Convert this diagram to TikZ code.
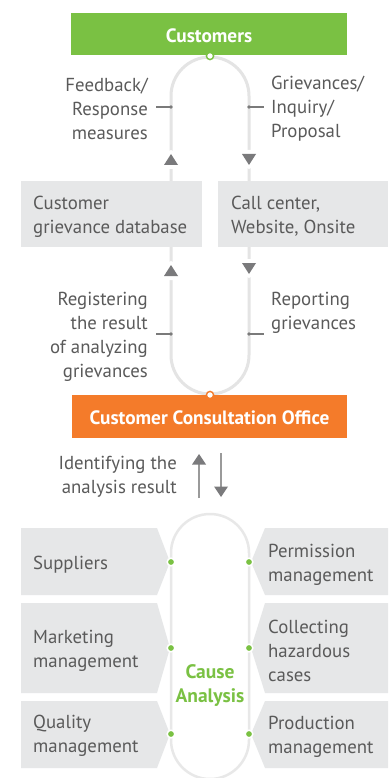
\documentclass[tikz,border=0pt]{standalone}
\usepackage{fontspec}
\setmainfont{PT Sans}
\definecolor{cgreen}{HTML}{7AC143}
\definecolor{corange}{HTML}{F47B2A}
\definecolor{boxgray}{HTML}{E6E7E8}
\definecolor{loopgray}{HTML}{E4E4E4}
\definecolor{loopgrayb}{HTML}{E8E8E8}
\definecolor{txtgray}{HTML}{5A5A5A}
\definecolor{arrgray}{HTML}{7A7A7C}
\definecolor{tickgray}{HTML}{7A7A7A}
\definecolor{thingray}{HTML}{9A9A9A}
\begin{document}
\begin{tikzpicture}[x=1pt,y=-1pt,
  lbl/.style={text=txtgray,font=\fontsize{18.8}{24}\selectfont,inner sep=0pt},
  hdr/.style={font=\fontsize{19.3}{22}\selectfont\bfseries,inner sep=0pt},
  loopline/.style={draw=loopgray,line width=3pt},
  looplineb/.style={draw=loopgrayb,line width=2.5pt},
  graybox/.style={fill=boxgray},
  tick/.style={draw=tickgray,line width=1.1pt},
  tickdot/.style={fill=tickgray},
  tri/.style={fill=arrgray},
  trigap/.style={draw=white,fill=white,line width=8pt,line join=round},
  gdot/.style={fill=cgreen,draw=white,line width=1.5pt},
  thin/.style={draw=thingray,line width=1.2pt}
]
\useasboundingbox (0,0) rectangle (388,778);
\fill[white] (0,0) rectangle (388,778);

% main loop
\draw[loopline] (171,350) -- (171,96)
  .. controls (171,74.46) and (188.46,57) .. (210,57)
  .. controls (231.54,57) and (249,74.46) .. (249,96)
  -- (249,355)
  .. controls (249,376.54) and (231.54,394) .. (210,394)
  .. controls (188.46,394) and (171,376.54) .. (171,355) -- cycle;

% header boxes
\node[hdr,fill=cgreen,minimum width=276pt,minimum height=42pt,anchor=north west] (cust) at (71,13) {};
\node[hdr,text=white] (custtxt) at (209,35.5) {Customers};
\node[hdr,fill=corange,minimum width=275pt,minimum height=43pt,anchor=north west] (cco) at (72,395) {};
\node[hdr,text=white] (ccotxt) at (209.5,417.5) {Customer Consultation Office};
\draw[draw=cgreen,fill=white,line width=1.4pt] (210,56) circle[radius=3.6pt];
\draw[draw=corange,fill=white,line width=1.4pt] (210,395) circle[radius=3.6pt];

% channel boxes
\node[graybox,minimum width=181pt,minimum height=66pt,anchor=north west] (dbbox) at (21,181) {};
\node[graybox,minimum width=170pt,minimum height=66pt,anchor=north west] (ccbox) at (218,181) {};
\node[lbl,align=left,anchor=west] (dbtxt) at (33,216.5) {Customer\\grievance database};
\node[lbl,align=left,anchor=west] (cctxt) at (231,216.5) {Call center,\\Website, Onsite};

% arrow triangles with white gaps
\foreach \ya/\yb in {154/165,265/276}{
  \path[trigap] (171,\ya) -- (164,\yb) -- (178,\yb) -- cycle;
  \fill[tri] (171,\ya) -- (164,\yb) -- (178,\yb) -- cycle;
}
\foreach \ya/\yb in {154/165,263/274}{
  \path[trigap] (242,\ya) -- (256,\ya) -- (249,\yb) -- cycle;
  \fill[tri] (242,\ya) -- (256,\ya) -- (249,\yb) -- cycle;
}

% ticks
\foreach \y in {107,334}{
  \draw[tick] (156,\y) -- (171,\y);
  \fill[tickdot] (171,\y) circle[radius=1.9pt];
  \draw[tick] (249,\y) -- (264,\y);
  \fill[tickdot] (249,\y) circle[radius=1.9pt];
}

% loop labels
\node[lbl,align=right,anchor=east] (fb) at (148,108.5) {Feedback/\\Response\\measures};
\node[lbl,align=left,anchor=west] (gr) at (271,108.5) {Grievances/\\Inquiry/\\Proposal};
\node[lbl,align=right,anchor=east] (reg) at (148,336.5) {Registering\\the result\\of analyzing\\grievances};
\node[lbl,align=left,anchor=west] (rep) at (271,312.5) {Reporting\\grievances};

% identifying arrows
\coordinate (upS) at (199,498);
\coordinate (upE) at (199,464);
\coordinate (dnS) at (221,453);
\coordinate (dnE) at (221,487);
\draw[thin] (upS) -- (upE);
\fill[tri] (199,454) -- (192,464.5) -- (206,464.5) -- cycle;
\draw[thin] (dnS) -- (dnE);
\fill[tri] (214,486.5) -- (228,486.5) -- (221,497) -- cycle;
\node[lbl,align=right,anchor=east] (ident) at (177,476.5) {Identifying the\\analysis result};

% cause analysis loop
\draw[looplineb] (171,740) -- (171,553)
  .. controls (171,531.46) and (188.46,514) .. (210,514)
  .. controls (231.54,514) and (249,531.46) .. (249,553)
  -- (249,740)
  .. controls (249,761.54) and (231.54,779) .. (210,779)
  .. controls (188.46,779) and (171,761.54) .. (171,740) -- cycle;

% left pentagons
\fill[boxgray] (21,528) -- (157,528) -- (170,562) -- (157,595) -- (21,595) -- cycle;
\fill[boxgray] (21,603) -- (157,603) -- (170,648) -- (157,693) -- (21,693) -- cycle;
\fill[boxgray] (21,701) -- (157,701) -- (170,734) -- (157,768) -- (21,768) -- cycle;
% right pentagons
\fill[boxgray] (388,528) -- (265,528) -- (251,562) -- (265,595) -- (388,595) -- cycle;
\fill[boxgray] (388,603) -- (265,603) -- (251,648) -- (265,693) -- (388,693) -- cycle;
\fill[boxgray] (388,701) -- (265,701) -- (251,734) -- (265,768) -- (388,768) -- cycle;

\foreach \y in {562,648,734}{
  \draw[gdot] (171,\y) circle[radius=3.8pt];
  \draw[gdot] (249,\y) circle[radius=3.8pt];
}

\node[lbl,align=left,anchor=west] (sup) at (33,564.5) {Suppliers};
\node[lbl,align=left,anchor=west] (mkt) at (33,651) {Marketing\\management};
\node[lbl,align=left,anchor=west] (qual) at (33,735.5) {Quality\\management};
\node[lbl,align=left,anchor=west] (perm) at (268,564.5) {Permission\\management};
\node[lbl,align=left,anchor=west] (coll) at (268,650.5) {Collecting\\hazardous\\cases};
\node[lbl,align=left,anchor=west] (prod) at (268,736.5) {Production\\management};
\node[text=cgreen,font=\fontsize{19.5}{24}\selectfont\bfseries,align=center,inner sep=0pt] (cause) at (210,685.5) {Cause\\Analysis};
\end{tikzpicture}
\end{document}
